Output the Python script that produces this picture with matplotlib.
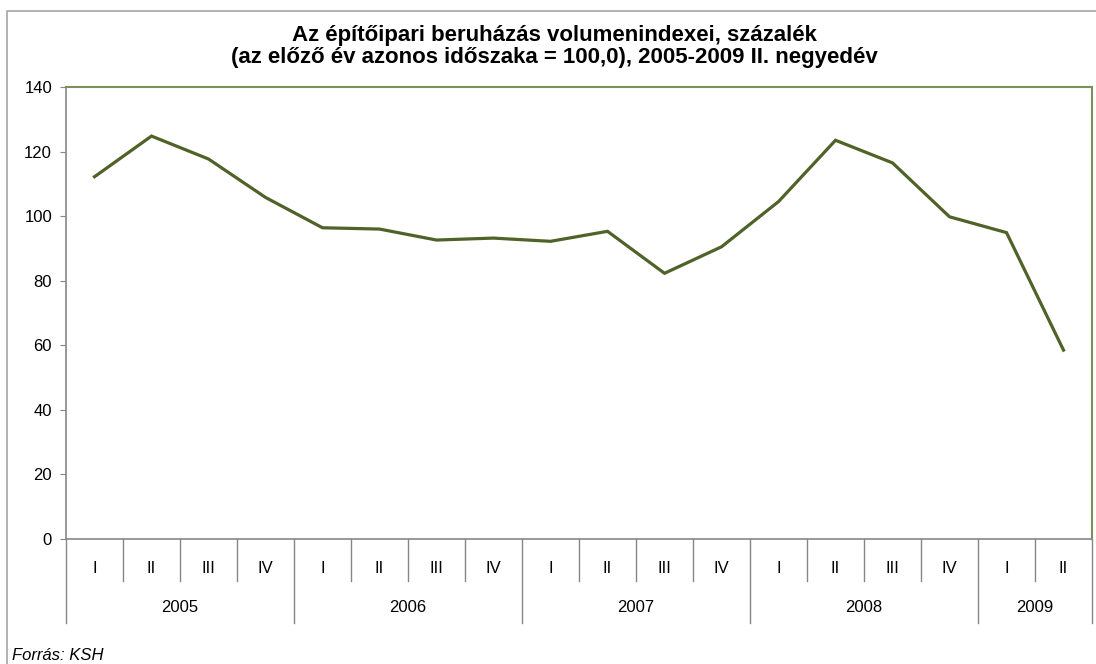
import matplotlib
matplotlib.use("Agg")
import matplotlib.pyplot as plt
import matplotlib.transforms as mtransforms
from matplotlib.patches import Rectangle

# data
years = ["2005", "2006", "2007", "2008", "2009"]
quarters_per_year = [4, 4, 4, 4, 2]
quarter_labels = ["I", "II", "III", "IV"] * 4 + ["I", "II"]
values = [112.2, 124.8, 117.7, 105.8, 96.4, 96.0, 92.6, 93.2, 92.2,
          95.3, 82.3, 90.5, 104.5, 123.5, 116.5, 99.8, 94.9, 58.5]

plt.rcParams["font.family"] = ["Liberation Sans", "DejaVu Sans"]

fig = plt.figure(figsize=(10.96, 6.64), dpi=100)
ax = fig.add_axes([66 / 1096, 125 / 664, 1026 / 1096, 452 / 664])

# outer chart border
fig.patches.append(Rectangle((7 / 1096, -0.05), 1.2, 1.05 - 11 / 664,
                             transform=fig.transFigure, fill=False,
                             edgecolor="#A6A6A6", linewidth=1.2))

x = [i + 0.5 for i in range(len(values))]
ax.plot(x, values, color="#4F6228", linewidth=2.3, solid_joinstyle="miter")

ax.set_xlim(0, len(values))
ax.set_ylim(0, 140)
ax.set_yticks(range(0, 141, 20))
ax.tick_params(axis="y", length=4, color="#868686", labelsize=12, pad=6)

ax.set_xticks(x, quarter_labels)
ax.tick_params(axis="x", length=0, labelsize=12, pad=16)

for side in ("left", "bottom"):
    ax.spines[side].set_color("#868686")
    ax.spines[side].set_linewidth(1.2)
for side in ("top", "right"):
    ax.spines[side].set_color("#7E8F5E")
    ax.spines[side].set_linewidth(1.5)

# hierarchical category axis: quarter and year separators
trans = mtransforms.blended_transform_factory(ax.transData, ax.transAxes)
bounds = [0]
for n in quarters_per_year:
    bounds.append(bounds[-1] + n)
for i in range(1, len(values)):
    if i not in bounds:
        ax.plot([i, i], [0, -42 / 452], transform=trans, color="#868686",
                linewidth=1, clip_on=False)
for b in bounds:
    ax.plot([b, b], [0, -84 / 452], transform=trans, color="#868686",
            linewidth=1, clip_on=False)
for yr, a, b in zip(years, bounds[:-1], bounds[1:]):
    ax.text((a + b) / 2, -68 / 452, yr, transform=trans, ha="center",
            va="center", fontsize=12)

fig.text(0.506, 1 - 35 / 664,
         "Az építőipari beruházás volumenindexei, százalék",
         ha="center", va="center", fontsize=16, fontweight="bold")
fig.text(0.506, 1 - 58 / 664,
         "(az előző év azonos időszaka = 100,0), 2005-2009 II. negyedév",
         ha="center", va="center", fontsize=16, fontweight="bold")
fig.text(12 / 1096, 1 - 655 / 664, "Forrás: KSH", ha="left", va="center",
         fontsize=12, style="italic")

fig.savefig("out.png", dpi=100)
